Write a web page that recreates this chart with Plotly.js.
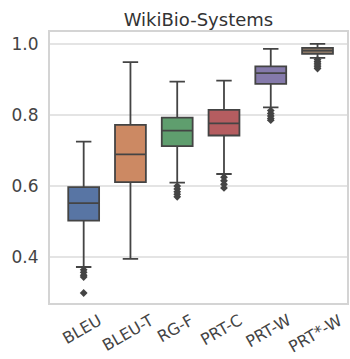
<!DOCTYPE html>
<html>
<head>
<meta charset="utf-8">
<script src="https://cdn.plot.ly/plotly-3.0.1.min.js"></script>
<style>html,body{margin:0;padding:0;background:#fff;}#chart{width:350px;height:359px;}</style>
</head>
<body>
<div id="chart"></div>
<script>
const categories = ["BLEU", "BLEU-T", "RG-F", "PRT-C", "PRT-W", "PRT*-W"];
const q1Values = [0.503, 0.611, 0.712, 0.742, 0.887, 0.971];
const medianValues = [0.552, 0.689, 0.756, 0.776, 0.917, 0.980];
const q3Values = [0.597, 0.772, 0.792, 0.814, 0.936, 0.988];
const lowerWhisker = [0.373, 0.396, 0.610, 0.634, 0.821, 0.960];
const upperWhisker = [0.725, 0.948, 0.893, 0.896, 0.985, 0.999];
const outliers = [
  [0.365, 0.358, 0.350, 0.345, 0.300],
  [],
  [0.600, 0.592, 0.584, 0.577, 0.570],
  [0.625, 0.615, 0.605, 0.595],
  [0.812, 0.804, 0.797, 0.790, 0.785],
  [0.955, 0.950, 0.945, 0.940, 0.935, 0.930]
];
const boxColors = ["#5875a4", "#cc8963", "#5f9e6e", "#b55d60", "#857aab", "#8c7866"];
const yTickVals = [0.4, 0.6, 0.8, 1.0];
const yTickText = ["0.4", "0.6", "0.8", "1.0"];

const lineColor = "#444444";
const traces = [];
categories.forEach((c, i) => {
  traces.push({
    type: "box",
    x: [c],
    q1: [q1Values[i]],
    median: [medianValues[i]],
    q3: [q3Values[i]],
    lowerfence: [lowerWhisker[i]],
    upperfence: [upperWhisker[i]],
    fillcolor: boxColors[i],
    line: {color: lineColor, width: 1.8},
    width: 0.66,
    whiskerwidth: 0.5,
    boxpoints: false,
    hoverinfo: "skip",
    showlegend: false
  });
  if (outliers[i].length) {
    traces.push({
      type: "scatter",
      mode: "markers",
      x: outliers[i].map(() => c),
      y: outliers[i],
      marker: {symbol: "diamond", size: 6, color: lineColor},
      hoverinfo: "skip",
      showlegend: false
    });
  }
});

const annotations = categories.map(c => ({
  x: c, xref: "x", y: 0, yref: "paper",
  yshift: -6, xshift: -2, xanchor: "center", yanchor: "top",
  text: c, showarrow: false, textangle: -30, borderpad: 0,
  font: {family: "DejaVu Sans", size: 16, color: "#444"}
}));

const layout = {
  width: 350, height: 359,
  margin: {l: 50, r: 3, t: 32, b: 56},
  paper_bgcolor: "#fff", plot_bgcolor: "#fff",
  title: {
    text: "WikiBio-Systems",
    font: {family: "DejaVu Sans", size: 18, color: "#333"},
    x: 0.567, xanchor: "center", y: 0.945, yanchor: "middle", yref: "container"
  },
  xaxis: {
    type: "category",
    categoryorder: "array", categoryarray: categories,
    range: [-0.72, 5.63],
    showticklabels: false, ticks: "",
    showgrid: false, zeroline: false,
    showline: true, mirror: true, linecolor: "#d4d4d4", linewidth: 2
  },
  yaxis: {
    range: [0.272, 1.0325],
    tickvals: yTickVals, ticktext: yTickText,
    ticks: "", ticklabelstandoff: 6,
    tickfont: {family: "DejaVu Sans", size: 17, color: "#444"},
    showgrid: true, gridcolor: "#e4e4e4", gridwidth: 2,
    zeroline: false,
    showline: true, mirror: true, linecolor: "#d4d4d4", linewidth: 2
  },
  annotations: annotations
};

Plotly.newPlot("chart", traces, layout, {displayModeBar: false, staticPlot: true});
</script>
</body>
</html>
